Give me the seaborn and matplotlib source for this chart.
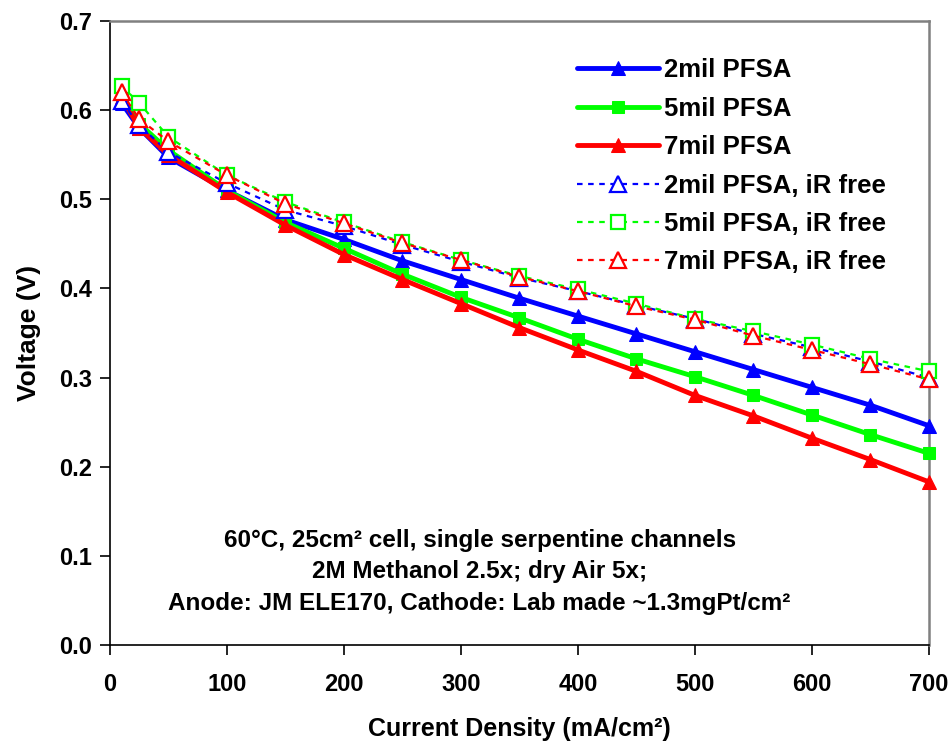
import pandas as pd
import matplotlib
matplotlib.use("Agg")
import matplotlib.pyplot as plt
import seaborn as sns

# current densities (mA/cm2)
current = [10, 25, 50, 100, 150, 200, 250, 300, 350, 400, 450, 500, 550, 600, 650, 700]

# measured voltages
v_2mil = [0.608, 0.580, 0.547, 0.510, 0.477, 0.455, 0.431, 0.410, 0.389, 0.369, 0.349, 0.329, 0.309, 0.289, 0.269, 0.246]
v_5mil = [0.615, 0.585, 0.555, 0.510, 0.474, 0.445, 0.416, 0.390, 0.367, 0.343, 0.321, 0.301, 0.280, 0.258, 0.236, 0.215]
v_7mil = [0.615, 0.580, 0.550, 0.508, 0.471, 0.438, 0.410, 0.383, 0.356, 0.331, 0.307, 0.280, 0.257, 0.232, 0.208, 0.183]

# iR corrected voltages
v_2mil_ir = [0.610, 0.583, 0.553, 0.518, 0.488, 0.470, 0.449, 0.430, 0.412, 0.397, 0.381, 0.366, 0.349, 0.334, 0.318, 0.300]
v_5mil_ir = [0.627, 0.608, 0.570, 0.527, 0.497, 0.474, 0.452, 0.432, 0.414, 0.399, 0.383, 0.366, 0.352, 0.337, 0.321, 0.307]
v_7mil_ir = [0.620, 0.590, 0.565, 0.527, 0.495, 0.473, 0.451, 0.432, 0.413, 0.397, 0.380, 0.365, 0.347, 0.331, 0.315, 0.298]

labels = ["2mil PFSA", "5mil PFSA", "7mil PFSA",
          "2mil PFSA, iR free", "5mil PFSA, iR free", "7mil PFSA, iR free"]
series = [v_2mil, v_5mil, v_7mil, v_2mil_ir, v_5mil_ir, v_7mil_ir]
colors = ["#0000ff", "#00ff00", "#ff0000", "#0000ff", "#00ff00", "#ff0000"]
markers = ["^", "s", "^", "^", "s", "^"]

sns.set_style("white")
plt.rcParams["font.family"] = ["Liberation Sans", "DejaVu Sans"]
plt.rcParams["font.weight"] = "bold"
for k in ["text.color", "axes.labelcolor", "xtick.color", "ytick.color"]:
    plt.rcParams[k] = "black"

fig = plt.figure(figsize=(9.52, 7.43), dpi=100)
ax = fig.add_axes([0.1155, 0.1319, 0.9758 - 0.1155, 0.9717 - 0.1319])

for i, (lab, vals) in enumerate(zip(labels, series)):
    df = pd.DataFrame({"x": current, "y": vals})
    if i < 3:
        sns.lineplot(data=df, x="x", y="y", ax=ax, color=colors[i], lw=3.5,
                     marker=markers[i], markersize=10 if markers[i] == "^" else 8.5,
                     markeredgecolor=colors[i], markerfacecolor=colors[i],
                     label=lab, clip_on=False, zorder=3)
    else:
        sns.lineplot(data=df, x="x", y="y", ax=ax, color=colors[i], lw=1.6,
                     linestyle=(0, (2.5, 2.5)), marker=markers[i],
                     markersize=11 if markers[i] == "^" else 9.5,
                     markeredgecolor=colors[i], markerfacecolor="white",
                     markeredgewidth=1.6, label=lab, clip_on=False, zorder=4)

ax.set_xlim(0, 700)
ax.set_ylim(0, 0.7)
ax.set_xticks(range(0, 701, 100))
ax.set_yticks([0, 0.1, 0.2, 0.3, 0.4, 0.5, 0.6, 0.7])
ax.set_yticklabels(["0.0", "0.1", "0.2", "0.3", "0.4", "0.5", "0.6", "0.7"])
ax.tick_params(axis="both", direction="out", length=7, width=1.2, labelsize=17,
               left=True, bottom=True)
ax.tick_params(axis="x", pad=13)
ax.tick_params(axis="y", pad=6)
for t in ax.get_xticklabels() + ax.get_yticklabels():
    t.set_fontweight("bold")

for side in ["left", "bottom"]:
    ax.spines[side].set_color("black")
    ax.spines[side].set_linewidth(1.2)
for side in ["top", "right"]:
    ax.spines[side].set_color("#808080")
    ax.spines[side].set_linewidth(1.8)

ax.set_xlabel("Current Density (mA/cm²)", fontsize=18, fontweight="bold", labelpad=15)
ax.set_ylabel("Voltage (V)", fontsize=19, fontweight="bold", labelpad=13)

ax.text(316, 0.082,
        "60°C, 25cm² cell, single serpentine channels\n2M Methanol 2.5x; dry Air 5x;\n"
        "Anode: JM ELE170, Cathode: Lab made ~1.3mgPt/cm²",
        ha="center", va="center", fontsize=17.5, fontweight="bold", linespacing=1.48)

leg = ax.legend(loc="upper left", bbox_to_anchor=(0.570, 0.94), frameon=False,
                fontsize=18.5, handlelength=3.2, handletextpad=0.2, labelspacing=0.56,
                borderpad=0, borderaxespad=0)
for t in leg.get_texts():
    t.set_fontweight("bold")

fig.savefig("out.png", dpi=100)
